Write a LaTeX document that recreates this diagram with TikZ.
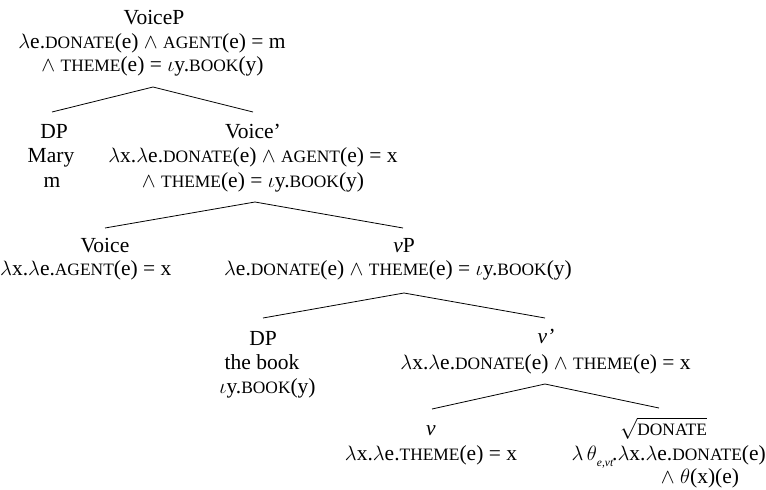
\documentclass[tikz,border=0pt]{standalone}
\usepackage{fontspec}
\setmainfont{Liberation Serif}
% small capitals, set as reduced upper case
\newcommand\fsc[1]{{\fontsize{17.4pt}{17.4pt}\selectfont #1}}
\newcommand\lam{$\lambda$}
\newcommand\io{$\iota$}
\newcommand\subsc[1]{\raisebox{-0.28em}{\fontsize{11.5pt}{11.5pt}\selectfont\itshape #1}}
\tikzset{
  lbl/.style={anchor=base, inner sep=0pt, font=\fontsize{21.5pt}{24pt}\selectfont},
  branch/.style={line width=0.8pt, line join=miter}
}
\begin{document}
\begin{tikzpicture}[x=1pt,y=1pt]
\useasboundingbox (0,0) rectangle (766,-490);
\fill[white] (0,0) rectangle (766,-490);

% VoiceP
\node[lbl] (voicep) at (154,-24.5) {VoiceP};
\node[lbl] (voicep-m1) at (152,-48) {\lam e.\fsc{DONATE}(e) $\wedge$ \fsc{AGENT}(e) = m};
\node[lbl] (voicep-m2) at (152.5,-71.5) {$\wedge$ \fsc{THEME}(e) = \io y.\fsc{BOOK}(y)};

% DP (Mary) and Voice'
\node[lbl] (dpm) at (54,-138) {DP};
\node[lbl] (dpm-w) at (51,-162.5) {Mary};
\node[lbl] (dpm-m) at (52,-187) {m};
\node[lbl] (voicebar) at (253,-138) {Voice’};
\node[lbl] (voicebar-m1) at (253,-162.5) {\lam x.\lam e.\fsc{DONATE}(e) $\wedge$ \fsc{AGENT}(e) = x};
\node[lbl] (voicebar-m2) at (253,-187) {$\wedge$ \fsc{THEME}(e) = \io y.\fsc{BOOK}(y)};

% Voice and vP
\node[lbl] (voice) at (105,-252) {Voice};
\node[lbl, anchor=base west] (voice-m) at (0,-275) {\lam x.\lam e.\fsc{AGENT}(e) = x};
\node[lbl] (vp) at (404,-252) {\textit{v}P};
\node[lbl] (vp-m) at (398,-275) {\lam e.\fsc{DONATE}(e) $\wedge$ \fsc{THEME}(e) = \io y.\fsc{BOOK}(y)};

% DP (the book) and v'
\node[lbl] (dpb) at (263,-345) {DP};
\node[lbl] (dpb-w) at (262,-369) {the book};
\node[lbl] (dpb-m) at (267.5,-393) {\io y.\fsc{BOOK}(y)};
\node[lbl] (vbar) at (546,-343) {\textit{v’}};
\node[lbl] (vbar-m) at (545.5,-369) {\lam x.\lam e.\fsc{DONATE}(e) $\wedge$ \fsc{THEME}(e) = x};

% v and the root
\node[lbl] (vhead) at (431,-435) {\textit{v}};
\node[lbl] (vhead-m) at (431,-460) {\lam x.\lam e.\fsc{THEME}(e) = x};
\node[lbl] (root) at (663.5,-435) {$\sqrt{\mbox{\fsc{DONATE}}}$};
\node[lbl, anchor=base east] (root-m1) at (766,-460) {$\lambda\,\theta$\subsc{e,vt}\kern-1pt.\lam x.\lam e.\fsc{DONATE}(e)};
\node[lbl] (root-m2) at (700,-483) {$\wedge$ $\theta$(x)(e)};

% branching points
\coordinate (voicep-foot) at (153,-87);
\coordinate (dpm-head) at (52,-112);
\coordinate (voicebar-head) at (253,-112);
\coordinate (voicebar-foot) at (255,-202);
\coordinate (voice-head) at (105,-228);
\coordinate (vp-head) at (403,-228);
\coordinate (vp-foot) at (404,-293);
\coordinate (dpb-head) at (263,-318);
\coordinate (vbar-head) at (545,-318);
\coordinate (vbar-foot) at (545,-384);
\coordinate (vhead-head) at (432,-409);
\coordinate (root-head) at (659,-408);

\draw[branch] (dpm-head) -- (voicep-foot) -- (voicebar-head);
\draw[branch] (voice-head) -- (voicebar-foot) -- (vp-head);
\draw[branch] (dpb-head) -- (vp-foot) -- (vbar-head);
\draw[branch] (vhead-head) -- (vbar-foot) -- (root-head);
\end{tikzpicture}
\end{document}
